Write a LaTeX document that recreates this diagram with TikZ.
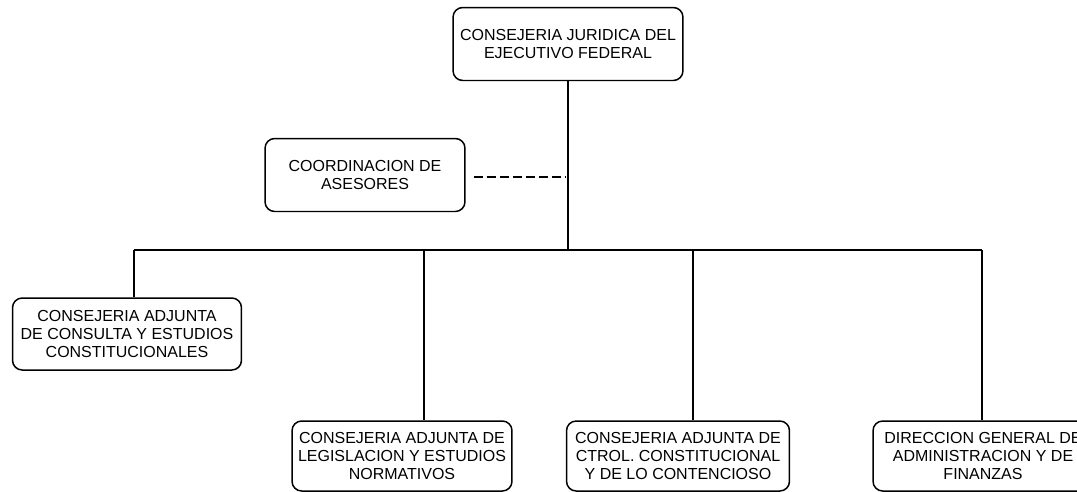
\documentclass[tikz,border=0pt]{standalone}
\usepackage{fontspec}
\setmainfont{Liberation Sans}
\begin{document}
\begin{tikzpicture}[x=0.02cm,y=-0.02cm,
		unit/.style={draw,line width=0.85pt,rounded corners=5.5pt,align=center,inner sep=2pt,
			font=\fontsize{9.1}{10}\selectfont},
		link/.style={line width=0.75pt}]
		% page frame
		\useasboundingbox (0,0) rectangle (1077,491);
		\clip (0,0) rectangle (1077,491);
		% units
		\node[unit,minimum width=4.6cm,minimum height=1.46cm] (cjef) at (568,44) {CONSEJERIA JURIDICA DEL\\EJECUTIVO FEDERAL};
		\node[unit,minimum width=4cm,minimum height=1.46cm] (ases) at (365,175) {COORDINACION DE\\ASESORES};
		\node[unit,minimum width=4.58cm,minimum height=1.44cm] (cacec) at (127,334) {CONSEJERIA ADJUNTA\\DE CONSULTA Y ESTUDIOS\\CONSTITUCIONALES};
		\node[unit,minimum width=4.4cm,minimum height=1.4cm] (calen) at (402,456) {CONSEJERIA ADJUNTA DE\\LEGISLACION Y ESTUDIOS\\NORMATIVOS};
		\node[unit,minimum width=4.46cm,minimum height=1.4cm] (cacc) at (678,456) {CONSEJERIA ADJUNTA DE\\CTROL. CONSTITUCIONAL\\Y DE LO CONTENCIOSO};
		\node[unit,minimum width=4.4cm,minimum height=1.4cm] (dgaf) at (983,456) {DIRECCION GENERAL DE\\ADMINISTRACION Y DE\\FINANZAS};

		% bus and taps
		\coordinate (busL) at (134,250);
		\coordinate (busR) at (982,250);
		\coordinate (tap2) at (424,250);
		\coordinate (tap3) at (693,250);
		\coordinate (asej) at (566,177);
		\draw[link] (cjef.south) -- (cjef.south |- busL);
		\draw[link] (busL) -- (busR);
		\draw[line width=1.4pt] (busL) -- (busL |- cacec.north);
		\draw[link] (tap2) -- (tap2 |- calen.north);
		\draw[link] (tap3) -- (tap3 |- cacc.north);
		\draw[link] (busR) -- (busR |- dgaf.north);
		% staff line
		\draw[line width=1.1pt,dash pattern=on 5pt off 2.4pt] ([xshift=0.16cm]ases.east |- asej) -- (asej);
	\end{tikzpicture}
\end{document}
